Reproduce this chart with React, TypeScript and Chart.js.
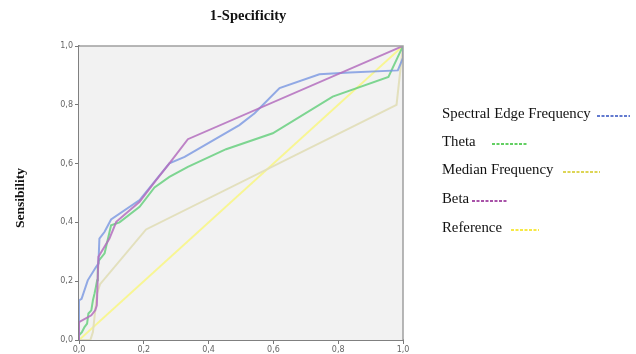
import React, { useEffect, useRef } from "react";
import { Chart, registerables } from "chart.js";

Chart.register(...registerables);

// ROC curves: x = 1 - specificity, y = sensibility
const spectralEdgeX = [0, 0, 0.008, 0.027, 0.053, 0.06, 0.063, 0.079, 0.099, 0.187, 0.279, 0.326, 0.495, 0.542, 0.619, 0.742, 0.835, 0.984, 1.0, 1.0];
const spectralEdgeY = [0, 0.135, 0.14, 0.203, 0.249, 0.26, 0.345, 0.368, 0.41, 0.476, 0.601, 0.623, 0.731, 0.771, 0.857, 0.904, 0.91, 0.917, 0.96, 1.0];

const thetaX = [0, 0, 0.009, 0.017, 0.025, 0.029, 0.038, 0.043, 0.048, 0.052, 0.056, 0.058, 0.061, 0.079, 0.099, 0.125, 0.187, 0.233, 0.279, 0.336, 0.454, 0.598, 0.783, 0.955, 1.0];
const thetaY = [0, 0.016, 0.027, 0.044, 0.056, 0.09, 0.101, 0.135, 0.158, 0.18, 0.203, 0.249, 0.27, 0.295, 0.39, 0.4, 0.453, 0.519, 0.555, 0.589, 0.649, 0.703, 0.828, 0.895, 1.0];

const medianX = [0, 0.035, 0.043, 0.05, 0.056, 0.065, 0.207, 0.98, 1.0];
const medianY = [0, 0, 0.027, 0.1, 0.16, 0.19, 0.376, 0.8, 1.0];

const betaX = [0, 0, 0.038, 0.05, 0.055, 0.06, 0.094, 0.115, 0.187, 0.238, 0.279, 0.336, 1.0];
const betaY = [0, 0.061, 0.084, 0.101, 0.118, 0.283, 0.345, 0.402, 0.47, 0.544, 0.601, 0.683, 1.0];

const referenceX = [0, 1];
const referenceY = [0, 1];

const tickValues = [0, 0.2, 0.4, 0.6, 0.8, 1.0];

const legendLabels = ["Spectral Edge Frequency", "Theta", "Median Frequency", "Beta", "Reference"];
const legendDashColors = ["#2f4fc0", "#2fc02f", "#d2c81e", "#8c1a8c", "#f5e20a"];

const toPoints = (xs: number[], ys: number[]) => xs.map((x, i) => ({ x, y: ys[i] }));
const fmt = (v: number) => v.toFixed(1).replace(".", ",");

const backgroundPlugin = {
  id: "plotBackground",
  beforeDatasetsDraw(chart: any) {
    const { ctx, chartArea: a } = chart;
    ctx.save();
    ctx.fillStyle = "#f2f2f2";
    ctx.fillRect(a.left, a.top, a.right - a.left, a.bottom - a.top);
    ctx.restore();
  },
  afterDatasetsDraw(chart: any) {
    const { ctx, chartArea: a } = chart;
    ctx.save();
    ctx.strokeStyle = "#a0a0a0";
    ctx.lineWidth = 1.5;
    ctx.beginPath();
    ctx.moveTo(a.left, a.top);
    ctx.lineTo(a.right, a.top);
    ctx.lineTo(a.right, a.bottom);
    ctx.stroke();
    ctx.restore();
  },
};

const textPlugin = {
  id: "titlesAndLegend",
  afterDraw(chart: any) {
    const { ctx } = chart;
    ctx.save();
    ctx.fillStyle = "#111";
    ctx.font = "bold 14.5px 'Liberation Serif', 'Times New Roman', serif";
    ctx.textAlign = "center";
    ctx.textBaseline = "middle";
    ctx.fillText("1-Specificity", 248, 16);

    ctx.font = "bold 13.5px 'Liberation Serif', 'Times New Roman', serif";
    ctx.save();
    ctx.translate(21, 198);
    ctx.rotate(-Math.PI / 2);
    ctx.fillText("Sensibility", 0, 0);
    ctx.restore();

    // Legend: label followed by a short dashed stroke
    const rows = [114, 142, 170, 199, 228];
    const dashStart = [597, 492, 563, 472, 511];
    const dashEnd = [630, 527, 600, 508, 539];
    ctx.font = "14.8px 'Liberation Serif', 'Times New Roman', serif";
    ctx.textAlign = "left";
    legendLabels.forEach((label, i) => {
      ctx.fillStyle = "#111";
      ctx.fillText(label, 442, rows[i]);
      ctx.strokeStyle = legendDashColors[i];
      ctx.lineWidth = 1.3;
      ctx.setLineDash([3, 1.5]);
      ctx.beginPath();
      ctx.moveTo(dashStart[i], rows[i] + 2);
      ctx.lineTo(dashEnd[i], rows[i] + 2);
      ctx.stroke();
    });
    ctx.restore();
  },
};

export default function App() {
  const canvasRef = useRef<HTMLCanvasElement | null>(null);

  useEffect(() => {
    if (!canvasRef.current) return;
    const line = (data: any, color: string, order: number) => ({
      data,
      borderColor: color,
      borderWidth: 2,
      pointRadius: 0,
      showLine: true,
      fill: false,
      tension: 0,
      order,
    });
    const tickFont = { family: "'DejaVu Sans', sans-serif", size: 8 };
    const chart = new Chart(canvasRef.current, {
      type: "scatter",
      data: {
        datasets: [
          line(toPoints(betaX, betaY), "rgba(180,110,190,0.85)", 1),
          line(toPoints(spectralEdgeX, spectralEdgeY), "rgba(120,150,225,0.8)", 2),
          line(toPoints(thetaX, thetaY), "rgba(95,205,120,0.8)", 3),
          line(toPoints(medianX, medianY), "rgba(225,222,185,0.95)", 4),
          line(toPoints(referenceX, referenceY), "rgba(248,245,140,0.95)", 5),
        ],
      },
      options: {
        animation: false,
        responsive: false,
        layout: { padding: { top: 46, right: 233, left: 0, bottom: 0 } },
        plugins: { legend: { display: false }, tooltip: { enabled: false }, title: { display: false } },
        scales: {
          x: {
            type: "linear",
            min: 0,
            max: 1,
            afterBuildTicks: (s: any) => { s.ticks = tickValues.map((v) => ({ value: v })); },
            afterFit: (s: any) => { s.height = 14; },
            ticks: { callback: (v: any) => fmt(Number(v)), color: "#666", font: tickFont, padding: 1, maxRotation: 0 },
            grid: { drawOnChartArea: false, drawTicks: true, tickLength: 4, color: "#777" },
            border: { color: "#808080", width: 2 },
          },
          y: {
            type: "linear",
            min: 0,
            max: 1,
            afterBuildTicks: (s: any) => { s.ticks = tickValues.map((v) => ({ value: v })); },
            afterFit: (s: any) => { s.width = 79; },
            ticks: { callback: (v: any) => fmt(Number(v)), color: "#666", font: tickFont, padding: 2 },
            grid: { drawOnChartArea: false, drawTicks: true, tickLength: 4, color: "#777" },
            border: { color: "#808080", width: 2 },
          },
        },
      },
      plugins: [backgroundPlugin, textPlugin],
    } as any);
    return () => chart.destroy();
  }, []);

  return (
    <div style={{ position: "fixed", left: 0, top: 0, width: 636, height: 354, background: "#fff" }}>
      <canvas ref={canvasRef} width={636} height={354} style={{ width: 636, height: 354 }} />
    </div>
  );
}
